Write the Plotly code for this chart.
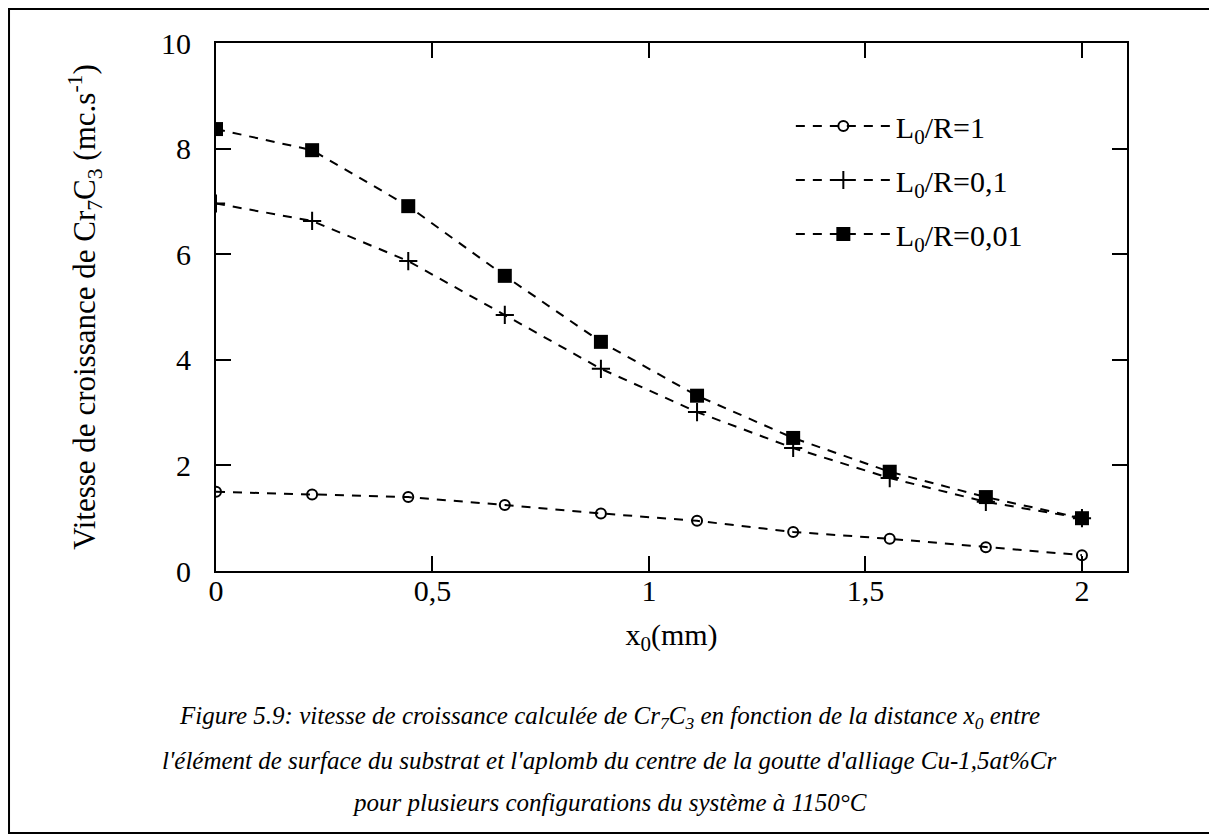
import plotly.graph_objects as go

x_mm = [0, 0.222, 0.444, 0.667, 0.889, 1.111, 1.333, 1.556, 1.778, 2.0]
v_L1 = [1.50, 1.45, 1.40, 1.25, 1.09, 0.95, 0.74, 0.61, 0.45, 0.30]
v_L01 = [6.96, 6.63, 5.87, 4.85, 3.83, 3.01, 2.33, 1.76, 1.31, 1.00]
v_L001 = [8.37, 7.97, 6.91, 5.59, 4.34, 3.32, 2.52, 1.88, 1.40, 1.00]

names = ["L<sub>0</sub>/R=1", "L<sub>0</sub>/R=0,1", "L<sub>0</sub>/R=0,01"]
x_tickvals = [0, 0.5, 1, 1.5, 2]
x_ticktext = ["0", "0,5", "1", "1,5", "2"]
y_tickvals = [0, 2, 4, 6, 8, 10]

caption_lines = [
    "<i>Figure 5.9: vitesse de croissance calculée de Cr<sub>7</sub>C<sub>3</sub> en fonction de la distance x<sub>0</sub> entre</i>",
    "<i>l'élément de surface du substrat et l'aplomb du centre de la goutte d'alliage Cu-1,5at%Cr</i>",
    "<i>pour plusieurs configurations du système à 1150°C</i>",
]

FONT = "Liberation Serif"
dash = "9px,8px"

fig = go.Figure()
fig.add_trace(go.Scatter(x=x_mm, y=v_L1, name=names[0], legendgroup="a", mode="lines+markers",
                         line=dict(color="black", width=2, dash=dash),
                         marker=dict(symbol="circle-open", size=10, color="black",
                                     line=dict(width=2, color="black"))))
fig.add_trace(go.Scatter(x=x_mm, y=v_L01, name=names[1], legendgroup="b", mode="lines+markers",
                         line=dict(color="black", width=2, dash=dash),
                         marker=dict(symbol="cross-thin-open", size=13, color="black",
                                     line=dict(width=2, color="black"))))
fig.add_trace(go.Scatter(x=x_mm, y=v_L001, name=names[2], legendgroup="c", mode="lines+markers",
                         line=dict(color="black", width=2, dash=dash),
                         marker=dict(symbol="square", size=14, color="black")))

axis_common = dict(showline=True, linecolor="black", linewidth=2, mirror="ticks",
                   ticks="inside", ticklen=15, tickwidth=2, tickcolor="black",
                   showgrid=False, zeroline=False,
                   tickfont=dict(family=FONT, size=30, color="black"))

fig.update_xaxes(range=[0, 2.104], tickvals=x_tickvals, ticktext=x_ticktext,
                 ticklabelstandoff=-8,
                 title=dict(text="x<sub>0</sub>(mm)", font=dict(family=FONT, size=30, color="black"),
                            standoff=18),
                 **axis_common)
fig.update_yaxes(range=[0, 10], tickvals=y_tickvals, ticklabelstandoff=17,
                 title=dict(text="Vitesse de croissance de Cr<sub>7</sub>C<sub>3</sub> (mc.s<sup>-1</sup>)",
                            font=dict(family=FONT, size=31, color="black"), standoff=56),
                 **axis_common)

cap_y = [-0.2784, -0.358, -0.4375]
annotations = [dict(text=t, xref="paper", yref="paper", x=0.4314, y=yy,
                    xanchor="center", yanchor="middle", showarrow=False,
                    font=dict(family=FONT, size=25, color="black"))
               for t, yy in zip(caption_lines, cap_y)]

fig.update_layout(
    width=1209, height=828,
    margin=dict(l=208, r=90, t=35, b=265),
    paper_bgcolor="white", plot_bgcolor="white",
    font=dict(family=FONT, color="black"),
    showlegend=True,
    legend=dict(x=0.631, y=0.892, xanchor="left", yanchor="top", traceorder="grouped",
                bgcolor="rgba(0,0,0,0)", font=dict(family=FONT, size=30, color="black"),
                itemwidth=95, tracegroupgap=12),
    annotations=annotations,
    shapes=[dict(type="rect", xref="paper", yref="paper", x0=-0.2272, x1=1.0944,
                 y0=-0.4962, y1=1.0644, line=dict(color="black", width=2))],
)

fig.write_html("out.html")
